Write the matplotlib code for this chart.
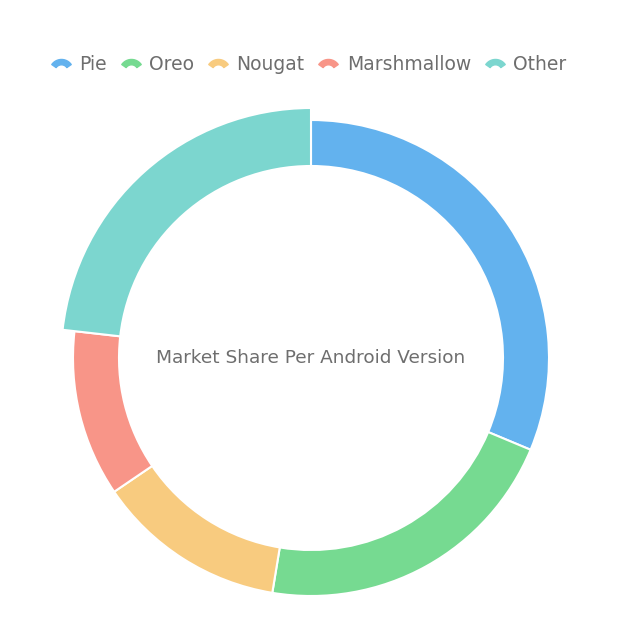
import numpy as np
import matplotlib.pyplot as plt
from matplotlib.path import Path
from matplotlib.lines import Line2D

versions = ["Pie", "Oreo", "Nougat", "Marshmallow", "Other"]
share = [31.3, 21.3, 12.9, 11.3, 23.2]
colors = ["#63b2ee", "#76da91", "#f8cb7f", "#f89588", "#7cd6cf"]
title = "Market Share Per Android Version"

W, H = 618, 636
fig = plt.figure(figsize=(W / 100, H / 100), dpi=100)
ax = fig.add_axes([0, 0, 1, 1])

cx, cy = 311, H - 358
r_out, r_in = 238, 192

wedges, _ = ax.pie(share, colors=colors, startangle=90, counterclock=False,
                   radius=r_out, center=(cx, cy), frame=True,
                   wedgeprops=dict(width=r_out - r_in, edgecolor="white", linewidth=1.5))
ax.set_xlim(0, W)
ax.set_ylim(0, H)
ax.set_aspect("equal")
ax.axis("off")

# "Other" slice is emphasised (larger outer radius)
wedges[-1].set_radius(250)
wedges[-1].set_width(250 - r_in)

ax.text(cx, cy, title, ha="center", va="center", fontsize=13.3, color="#6e6e6e")

# legend icon: small ring segment
t = np.linspace(np.radians(35), np.radians(145), 20)
outer = np.column_stack([np.cos(t), np.sin(t)])
inner = np.column_stack([0.55 * np.cos(t[::-1]), 0.55 * np.sin(t[::-1])])
verts = np.vstack([outer, inner, outer[:1]])
verts[:, 1] -= 0.66
arc = Path(verts, [Path.MOVETO] + [Path.LINETO] * (len(verts) - 2) + [Path.CLOSEPOLY])

handles = [Line2D([], [], marker=arc, linestyle="none", markersize=14,
                  markerfacecolor=c, markeredgecolor=c) for c in colors]
leg = fig.legend(handles, versions, loc="center", bbox_to_anchor=(0.5, 1 - 64 / H),
                 ncol=5, frameon=False, fontsize=13.5, handlelength=1.0,
                 handletextpad=0.5, columnspacing=0.75, labelcolor="#6e6e6e")

fig.savefig("out.png", dpi=100, facecolor="white")
